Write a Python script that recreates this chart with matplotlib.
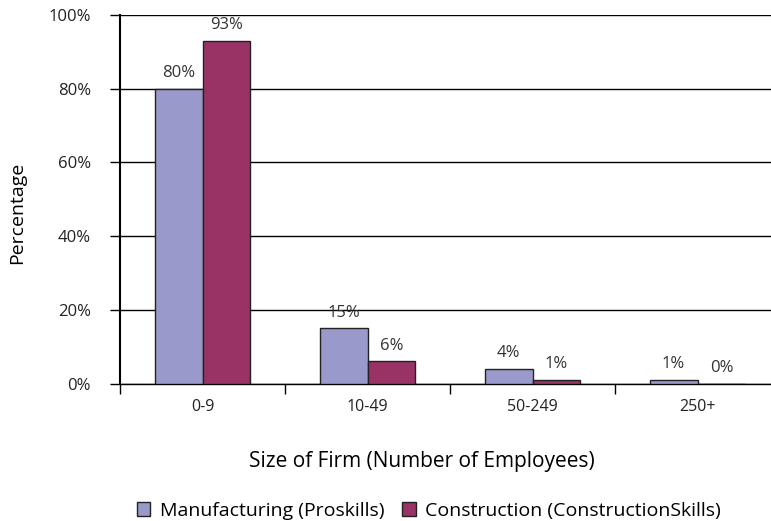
import numpy as np
import matplotlib
matplotlib.use('Agg')
import matplotlib.pyplot as plt

plt.rcParams['font.family'] = ['Open Sans', 'DejaVu Sans']

# firm size bands and share of firms in each
sizes = ['0-9', '10-49', '50-249', '250+']
manufacturing = [80, 15, 4, 1]
construction = [93, 6, 1, 0]
series_names = ['Manufacturing (Proskills)', 'Construction (ConstructionSkills)']

fig = plt.figure(figsize=(7.71, 5.21), dpi=100)
# axes spans 4 categories of 165px each, the last one runs off the right edge
ax = fig.add_axes([120/771, 1-383.5/521, 660/771, 368.5/521])

x = np.arange(len(sizes))
w = 0.29
b1 = ax.bar(x - w/2, manufacturing, w, color='#9999CC', edgecolor='#222222', linewidth=1, zorder=3, label=series_names[0])
b2 = ax.bar(x + w/2, construction, w, color='#993366', edgecolor='#222222', linewidth=1, zorder=3, label=series_names[1])

for rect, v in zip(b1, manufacturing):
    ax.text(rect.get_x() + rect.get_width()/2, v + 2, f'{v}%', ha='center', va='bottom', fontsize=12, color='#333333', zorder=4)
for rect, v in zip(b2, construction):
    ax.text(rect.get_x() + rect.get_width()/2, v + 2, f'{v}%', ha='center', va='bottom', fontsize=12, color='#333333', zorder=4)

ax.set_xlim(-0.5, 3.5)
ax.set_ylim(0, 100)
ax.set_yticks(range(0, 101, 20))
ax.set_yticklabels([f'{t}%' for t in range(0, 101, 20)], fontsize=12, color='#222222')
ax.yaxis.grid(True, color='black', linewidth=1, zorder=0)

# category labels in the middle, tick marks on the boundaries
ax.set_xticks(x)
ax.set_xticklabels(sizes, fontsize=11.5, color='#222222')
ax.tick_params(axis='x', length=0, pad=11)
ax.set_xticks(np.arange(-0.5, 4, 1), minor=True)
ax.tick_params(axis='x', which='minor', length=7, width=1, direction='out')
ax.tick_params(axis='y', length=7, width=1, direction='out', pad=14)

for s in ['top', 'right']:
    ax.spines[s].set_visible(False)
ax.spines['left'].set_linewidth(1.5)
ax.spines['bottom'].set_linewidth(1)

fig.text(17/771, 1-213/521, 'Percentage', rotation=90, ha='center', va='center', fontsize=14)
fig.text(422/771, 1-461/521, 'Size of Firm (Number of Employees)', ha='center', va='center', fontsize=15)

fig.legend(handles=[b1, b2], loc='center', bbox_to_anchor=(429/771, 1-511/521), ncol=2, frameon=False,
           fontsize=14, handlelength=0.7, handleheight=0.7, handletextpad=0.5, columnspacing=0.9)

fig.savefig('out.png', dpi=100)
